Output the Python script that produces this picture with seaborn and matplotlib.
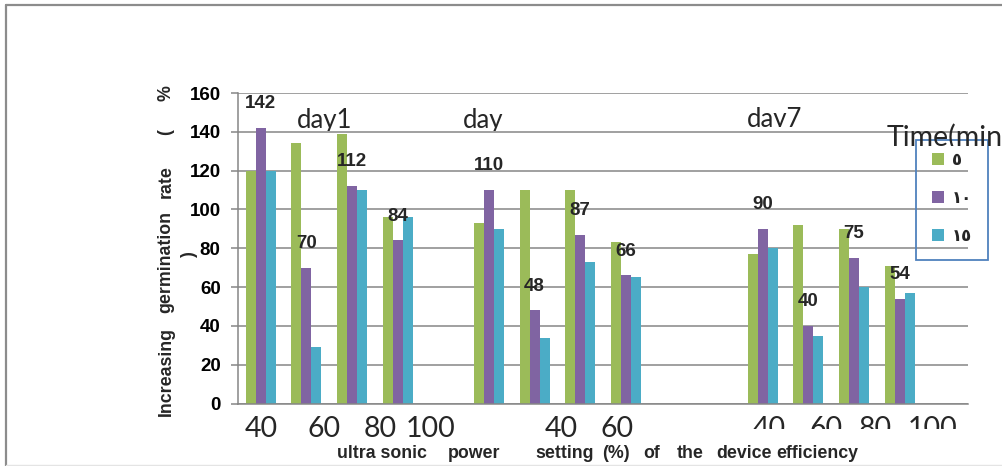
import matplotlib
matplotlib.use("Agg")
import matplotlib.pyplot as plt
import numpy as np
import pandas as pd
import seaborn as sns
from matplotlib.patches import Patch, Rectangle
from matplotlib.lines import Line2D

# ---- data -------------------------------------------------------------
day_labels = ["day1", "day", "day7"]
setting_labels = ["40", "60", "80", "100"]
time_labels = ["٥", "١٠", "١٥"]

rate_5 = [120, 134, 139, 96, 93, 110, 110, 83, 77, 92, 90, 71]
rate_10 = [142, 70, 112, 84, 110, 48, 87, 66, 90, 40, 75, 54]
rate_15 = [120, 29, 110, 96, 90, 34, 73, 65, 80, 35, 60, 57]

colors = ["#9bbb59", "#8064a2", "#4bacc6"]

# ---- layout helpers ----------------------------------------------------
W, H = 1003, 466
def fx(px):
    return px / W
def fy(py):
    return 1 - py / H

day_first_slot = [0, 5, 11]
n_slots = 16

rows = []
order = [f"gap{i}" for i in range(n_slots)]
for d, day in enumerate(day_labels):
    for s, setting in enumerate(setting_labels):
        key = f"{day} {setting}"
        order[day_first_slot[d] + s] = key
        for t, vals in zip(time_labels, [rate_5, rate_10, rate_15]):
            rows.append((key, t, vals[d * 4 + s]))
df = pd.DataFrame(rows, columns=["slot", "time", "rate"])

sns.set_theme(style="white")
plt.rcParams["font.family"] = ["Lato", "DejaVu Sans"]
BOLD = {"family": ["Liberation Sans", "DejaVu Sans"], "weight": "bold"}

fig = plt.figure(figsize=(W / 100, H / 100), dpi=100)
ax = fig.add_axes([fx(238), fy(403.5), fx(968) - fx(238), fy(93) - fy(403.5)])

sns.barplot(data=df, x="slot", y="rate", hue="time", order=order,
            hue_order=time_labels, palette=colors, width=0.66,
            errorbar=None, linewidth=0, saturation=1, legend=False, ax=ax)

ax.set_xlim(-0.5, n_slots - 0.5)
ax.set_ylim(0, 160)
ax.set_xlabel("")
ax.set_ylabel("")
ax.set_xticks([])
ax.set_yticks(range(0, 161, 20))
grid_c = "#868686"
ax.yaxis.grid(True, color=grid_c, lw=1.1)
ax.set_axisbelow(True)
for side in ["top", "right"]:
    ax.spines[side].set_visible(False)
for side in ["left", "bottom"]:
    ax.spines[side].set_color(grid_c)
    ax.spines[side].set_linewidth(1.1)
ax.tick_params(axis="y", length=5, width=1.1, color=grid_c, pad=7.5,
               labelcolor="black", left=True)
for lbl in ax.get_yticklabels():
    lbl.set_fontfamily(BOLD["family"])
    lbl.set_fontweight("bold")
    lbl.set_fontsize(13.5)

# value labels above the 10-minute bars
for bar in ax.containers[1]:
    h = bar.get_height()
    ax.annotate(f"{h:.0f}", (bar.get_x() + bar.get_width() / 2, h),
                xytext=(0, 17.5), textcoords="offset points",
                ha="center", va="center", fontsize=13.5, **BOLD)

# large setting labels under the groups
tick_x = [261, 324, 380, 431, 561, 617, 769, 826, 875, 933]
tick_text = setting_labels + setting_labels[:2] + setting_labels
for i, (px, txt) in enumerate(zip(tick_x, tick_text)):
    t = fig.text(fx(px), fy(437), txt, ha="center", va="baseline",
                 fontsize=20.5)
    if i >= 6:
        clip = Rectangle((0, fy(429)), 1, 1, transform=fig.transFigure,
                         visible=False)
        fig.add_artist(clip)
        t.set_clip_path(clip)
        t.set_clip_on(True)

# day captions
day_pos = [(297, 128, 131), (463, 128, 131), (747, 127, 127.5)]
for txt, (px, base, cut) in zip(day_labels, day_pos):
    t = fig.text(fx(px), fy(base), txt, ha="left", va="baseline", fontsize=18.5)
    clip = Rectangle((0, fy(cut)), 1, 1, transform=fig.transFigure, visible=False)
    fig.add_artist(clip)
    t.set_clip_path(clip)
    t.set_clip_on(True)

# y axis title, spread over the axis height
ylab = [("Increasing", 371), ("germination", 262), ("rate", 182),
        ("(", 132), ("%", 93)]
for txt, py in ylab:
    fig.text(fx(166), fy(py), txt, rotation=90, ha="center", va="center",
             fontsize=12.8, **BOLD)
fig.text(fx(189), fy(254), ")", rotation=90, ha="center", va="center",
         fontsize=12.8, **BOLD)

# x axis title
xlab = [("ultra sonic", 337), ("power", 448), ("setting", 535), ("(%)", 602),
        ("of", 643), ("the", 677), ("device", 716), ("efficiency", 776)]
for txt, px in xlab:
    fig.text(fx(px), fy(458), txt, ha="left", va="baseline",
             fontsize=12.8, **BOLD)

# legend
handles = [Patch(facecolor=c, edgecolor="none") for c in colors]
leg = fig.legend(handles, time_labels, loc="upper left",
                 bbox_to_anchor=(fx(932), fy(151)), bbox_transform=fig.transFigure,
                 frameon=False, borderpad=0, borderaxespad=0,
                 handlelength=0.7, handleheight=0.7, handletextpad=0.5,
                 labelspacing=1.2,
                 prop={"family": "DejaVu Sans", "weight": "bold", "size": 12})
fig.add_artist(Rectangle((fx(916), fy(260)), fx(988) - fx(916), fy(140) - fy(260),
                         transform=fig.transFigure, fill=False,
                         edgecolor="#4f81bd", lw=1.3))
tt = fig.text(fx(887), fy(146), "Time(min", ha="left", va="baseline", fontsize=20.5)
tclip = Rectangle((0, fy(146)), 1, 1, transform=fig.transFigure, visible=False)
fig.add_artist(tclip)
tt.set_clip_path(tclip)
tt.set_clip_on(True)

# outer frame
fig.add_artist(Line2D([fx(6), fx(6)], [0, fy(5)], transform=fig.transFigure,
                      color="#8c8c8c", lw=1.6))
fig.add_artist(Line2D([fx(6), 1], [fy(5), fy(5)], transform=fig.transFigure,
                      color="#8c8c8c", lw=1.6))
fig.add_artist(Line2D([fx(6), 1], [fy(464.5), fy(464.5)], transform=fig.transFigure,
                      color="#e4e4e4", lw=1.0))

fig.savefig("out.png", dpi=100)
